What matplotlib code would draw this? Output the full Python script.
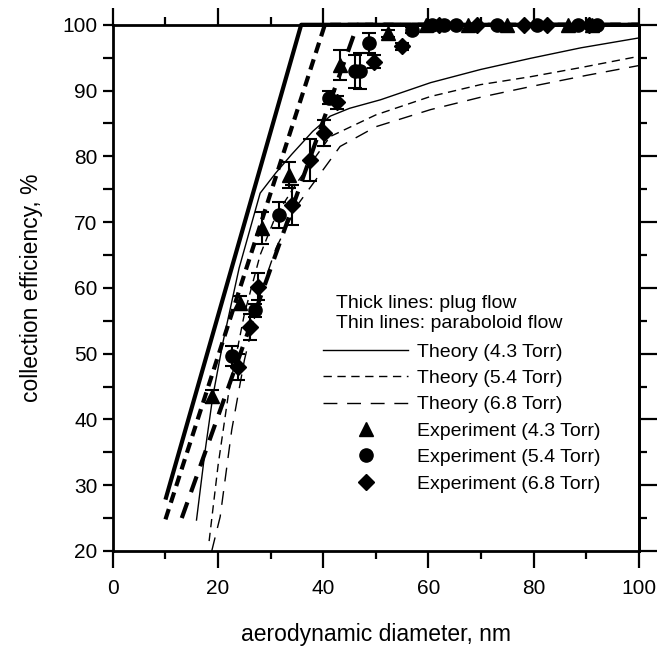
import numpy as np
import matplotlib
matplotlib.use('Agg')
import matplotlib.pyplot as plt
from matplotlib.lines import Line2D
from matplotlib.ticker import MultipleLocator

plt.rcParams['font.family'] = ['Liberation Sans', 'DejaVu Sans']

# theory, plug flow (thick lines)
plug43_x = [10.0, 35.8, 100]
plug43_y = [27.8, 100, 100]
plug54_x = [10.0, 40.3, 100]
plug54_y = [24.8, 100, 100]
plug68_x = [13.1, 46.5, 100]
plug68_y = [25.0, 100, 100]

# theory, paraboloid flow (thin lines)
para43_x = [15.9, 17.5, 19.0, 21.0, 24.0, 28.0, 31.0, 34.0, 38.0, 41.3, 45.0, 50.9, 60.4, 69.9, 79.4, 89.0, 100]
para43_y = [24.7, 35.0, 43.5, 52.0, 63.0, 74.4, 77.5, 80.3, 83.8, 86.1, 87.3, 88.6, 91.2, 93.2, 94.9, 96.5, 98.0]
para54_x = [18.3, 20.0, 22.0, 25.0, 28.0, 31.0, 35.0, 41.3, 50.0, 60.4, 69.9, 79.4, 89.0, 100]
para54_y = [21.5, 33.0, 44.0, 56.0, 65.0, 71.0, 76.0, 83.0, 86.3, 89.1, 90.9, 92.1, 93.5, 95.2]
para68_x = [18.8, 20.4, 22.6, 25.0, 28.0, 31.0, 35.0, 43.2, 50.0, 60.4, 70.0, 79.4, 90.0, 100]
para68_y = [20.0, 25.2, 38.4, 49.0, 59.0, 66.0, 72.5, 81.5, 84.5, 87.1, 89.0, 90.6, 92.3, 93.8]

# experiments
exp43_x = [18.8, 24.2, 28.3, 33.4, 43.1, 52.4, 59.5, 67.5, 75.0, 86.5, 91.0]
exp43_y = [43.5, 57.7, 69.1, 77.2, 93.9, 98.7, 100, 100, 100, 100, 100]
exp43_err = [1.0, 1.0, 2.5, 2.0, 2.3, 0.5, 0, 0, 0, 0, 0]

exp54_x = [22.6, 27.0, 31.5, 41.0, 46.1, 47.0, 48.6, 56.9, 60.7, 63.0, 65.2, 73.0, 80.7, 88.5, 92.0]
exp54_y = [49.6, 56.6, 71.1, 88.9, 92.9, 93.0, 97.2, 99.2, 100, 100, 100, 100, 100, 100, 100]
exp54_err = [1.5, 1.0, 2.0, 1.0, 2.5, 2.7, 1.5, 0.5, 0, 0, 0, 0, 0, 0, 0]

exp68_x = [23.8, 26.1, 27.6, 34.0, 37.5, 40.1, 42.6, 49.6, 55.0, 62.0, 69.3, 78.2, 82.6, 90.5]
exp68_y = [48.0, 54.1, 60.2, 72.6, 79.5, 83.5, 88.2, 94.4, 96.7, 100, 100, 100, 100, 100]
exp68_err = [2.0, 2.0, 2.0, 3.0, 3.2, 2.0, 1.0, 1.0, 0.5, 0, 0, 0, 0, 0]

fig = plt.figure(figsize=(6.6, 6.52), dpi=100)
ax = fig.add_axes([0.171, 0.155, 0.797, 0.807])

short_thick = (0, (2.6, 1.6))
long_thick = (0, (4.0, 2.6))
short_thin = (0, (6, 4))
long_thin = (0, (10, 7))

ax.plot(plug43_x, plug43_y, color='black', lw=3.0, ls='-', clip_on=False, solid_capstyle='butt')
ax.plot(plug54_x, plug54_y, color='black', lw=3.0, ls=short_thick, clip_on=False)
ax.plot(plug68_x, plug68_y, color='black', lw=3.0, ls=long_thick, clip_on=False)

ax.plot(para43_x, para43_y, color='black', lw=1.0, ls='-')
ax.plot(para54_x, para54_y, color='black', lw=1.0, ls=short_thin)
ax.plot(para68_x, para68_y, color='black', lw=1.0, ls=long_thin)

for xs, ys, es, mk in [(exp43_x, exp43_y, exp43_err, '^'),
                       (exp54_x, exp54_y, exp54_err, 'o'),
                       (exp68_x, exp68_y, exp68_err, 'D')]:
    ms = 8 if mk == 'D' else 9.5
    ax.errorbar(xs, ys, yerr=es, fmt=mk, color='black', ms=ms, elinewidth=1.5,
                capsize=5, capthick=1.5, clip_on=False, zorder=5)

ax.set_xlim(0, 100)
ax.set_ylim(20, 100)
ax.xaxis.set_major_locator(MultipleLocator(20))
ax.xaxis.set_minor_locator(MultipleLocator(10))
ax.yaxis.set_major_locator(MultipleLocator(10))
ax.yaxis.set_minor_locator(MultipleLocator(5))
ax.tick_params(which='both', direction='out', top=True, right=False, width=1.6,
               labelsize=15)
ax.tick_params(axis='x', which='major', length=12, pad=8)
ax.tick_params(axis='x', which='minor', length=6)
ax.tick_params(axis='y', which='both', length=7, pad=4)
for sp in ax.spines.values():
    sp.set_linewidth(2)

# right-hand ticks are longer than the left ones
sec = ax.secondary_yaxis('right')
sec.yaxis.set_major_locator(MultipleLocator(10))
sec.yaxis.set_minor_locator(MultipleLocator(5))
sec.tick_params(which='both', direction='out', width=1.6, labelright=False)
sec.tick_params(which='major', length=13)
sec.tick_params(which='minor', length=6)
sec.spines['right'].set_linewidth(2)

ax.set_xlabel('aerodynamic diameter, nm', fontsize=16.5, labelpad=18)
ax.set_ylabel('collection efficiency, %', fontsize=16.5, labelpad=14)

ax.text(0.425, 0.471, 'Thick lines: plug flow', transform=ax.transAxes,
        fontsize=14, va='center')
ax.text(0.425, 0.433, 'Thin lines: paraboloid flow', transform=ax.transAxes,
        fontsize=14, va='center')

handles = [
    Line2D([], [], color='black', lw=1.0, ls='-'),
    Line2D([], [], color='black', lw=1.0, ls=short_thin),
    Line2D([], [], color='black', lw=1.0, ls=long_thin),
    Line2D([], [], color='black', marker='^', ms=9.5, ls='none'),
    Line2D([], [], color='black', marker='o', ms=9.5, ls='none'),
    Line2D([], [], color='black', marker='D', ms=8, ls='none'),
]
labels = ['Theory (4.3 Torr)', 'Theory (5.4 Torr)', 'Theory (6.8 Torr)',
          'Experiment (4.3 Torr)', 'Experiment (5.4 Torr)', 'Experiment (6.8 Torr)']
ax.legend(handles, labels, loc='upper left', bbox_to_anchor=(0.399, 0.395),
          frameon=False, fontsize=14, handlelength=4.4, handletextpad=0.46,
          labelspacing=0.45, borderpad=0, borderaxespad=0)

fig.savefig('out.png', dpi=100)
